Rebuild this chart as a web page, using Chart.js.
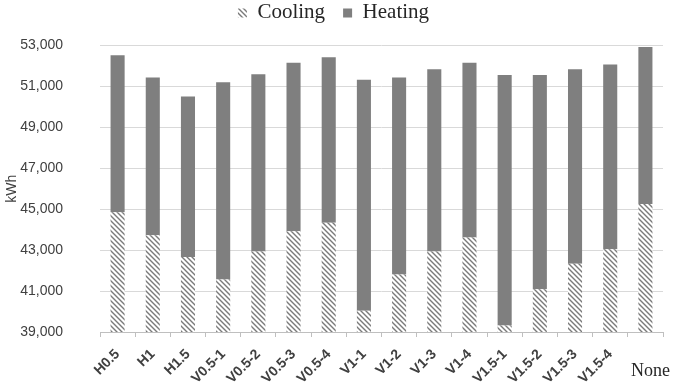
<!DOCTYPE html>
<html>
<head>
<meta charset="utf-8">
<script src="https://cdn.jsdelivr.net/npm/chart.js@4.4.1/dist/chart.umd.min.js"></script>
<style>
  html, body { margin: 0; padding: 0; background: #ffffff; }
  #wrap { width: 674px; height: 388px; }
</style>
</head>
<body>
<div id="wrap"><canvas id="c" width="674" height="388"></canvas></div>
<script>
const categories = ["H0.5","H1","H1.5","V0.5-1","V0.5-2","V0.5-3","V0.5-4","V1-1","V1-2","V1-3","V1-4","V1.5-1","V1.5-2","V1.5-3","V1.5-4","None"];
const cooling = [44850, 43730, 42660, 41570, 42930, 43920, 44340, 40040, 41810, 42930, 43620, 39320, 41090, 42340, 43040, 45250];
const heating = [7670, 7700, 7840, 9630, 8660, 8230, 8080, 11280, 9620, 8900, 8530, 12240, 10470, 9490, 9030, 7670];
const yTicks = { min: 39000, max: 53000, step: 2000 };

function hatch() {
  const s = 5;
  const cv = document.createElement('canvas');
  cv.width = s; cv.height = s;
  const g = cv.getContext('2d');
  g.fillStyle = '#ffffff';
  g.fillRect(0, 0, s, s);
  g.strokeStyle = '#7a7a7a';
  g.lineWidth = 1.4;
  g.beginPath();
  g.moveTo(-1, -1); g.lineTo(s + 1, s + 1);
  g.moveTo(-1, s - 1); g.lineTo(1, s + 1);
  g.moveTo(s - 1, -1); g.lineTo(s + 1, 1);
  g.stroke();
  return g.createPattern(cv, 'repeat');
}

const ctx = document.getElementById('c').getContext('2d');
const hatchPattern = hatch();

const legendSpace = {
  id: 'legendSpace',
  beforeInit(chart) {
    const lg = chart.legend;
    if (!lg) return;
    const orig = lg.fit;
    lg.fit = function () { orig.call(this); this.height -= 9; };
  },
  afterLayout(chart) {
    const lg = chart.legend;
    if (!lg) return;
    lg.top -= 21;
    lg.bottom -= 21;
  }
};

const lastLabelPlugin = {
  id: 'lastLabel',
  afterDraw(chart) {
    const xs = chart.scales.x;
    const c = chart.ctx;
    const idx = categories.indexOf('None');
    if (idx < 0) return;
    c.save();
    c.font = '18px "Liberation Serif", "DejaVu Serif", serif';
    c.fillStyle = '#262626';
    c.textAlign = 'center';
    c.textBaseline = 'middle';
    c.fillText(categories[idx], xs.getPixelForValue(idx) + 5, xs.top + 39);
    c.restore();
  }
};

new Chart(ctx, {
  type: 'bar',
  data: {
    labels: categories,
    datasets: [
      { label: 'Cooling', data: cooling, backgroundColor: hatchPattern, borderWidth: 0, categoryPercentage: 1, barPercentage: 0.4 },
      { label: 'Heating', data: heating, backgroundColor: '#7f7f7f', borderWidth: 0, categoryPercentage: 1, barPercentage: 0.4 }
    ]
  },
  options: {
    responsive: false,
    animation: false,
    layout: { padding: { left: 4, right: 11, top: 0, bottom: 0 } },
    plugins: {
      tooltip: { enabled: false },
      legend: {
        position: 'top',
        labels: {
          font: { family: '"Liberation Serif", "DejaVu Serif", serif', size: 21 },
          color: '#262626',
          boxWidth: 9,
          boxHeight: 9,
          padding: 18
        }
      }
    },
    scales: {
      x: {
        stacked: true,
        grid: { display: true, drawOnChartArea: false, drawTicks: true, tickLength: 5, color: '#bfbfbf', offset: true },
        border: { display: true, color: '#bfbfbf' },
        ticks: {
          autoSkip: false,
          maxRotation: 45,
          minRotation: 45,
          padding: 9,
          color: '#404040',
          font: { family: '"Liberation Sans", Arial, sans-serif', size: 14, weight: 'bold' },
          callback: function (v) { const l = this.getLabelForValue(v); return l === 'None' ? '' : l; }
        },
        afterFit: function (s) { s.height = 56; }
      },
      y: {
        stacked: true,
        min: yTicks.min,
        max: yTicks.max,
        grid: { color: '#d9d9d9', drawTicks: false, lineWidth: 1 },
        border: { display: false },
        ticks: {
          stepSize: yTicks.step,
          padding: 37,
          color: '#404040',
          font: { family: '"Liberation Sans", Arial, sans-serif', size: 14 },
          callback: v => v.toLocaleString('en-US')
        },
        title: {
          display: true,
          text: 'kWh',
          color: '#404040',
          font: { family: '"Liberation Sans", Arial, sans-serif', size: 14 },
          padding: 0
        },
        afterFit: function (s) { s.width = 96; }
      }
    }
  },
  plugins: [legendSpace, lastLabelPlugin]
});
</script>
</body>
</html>
